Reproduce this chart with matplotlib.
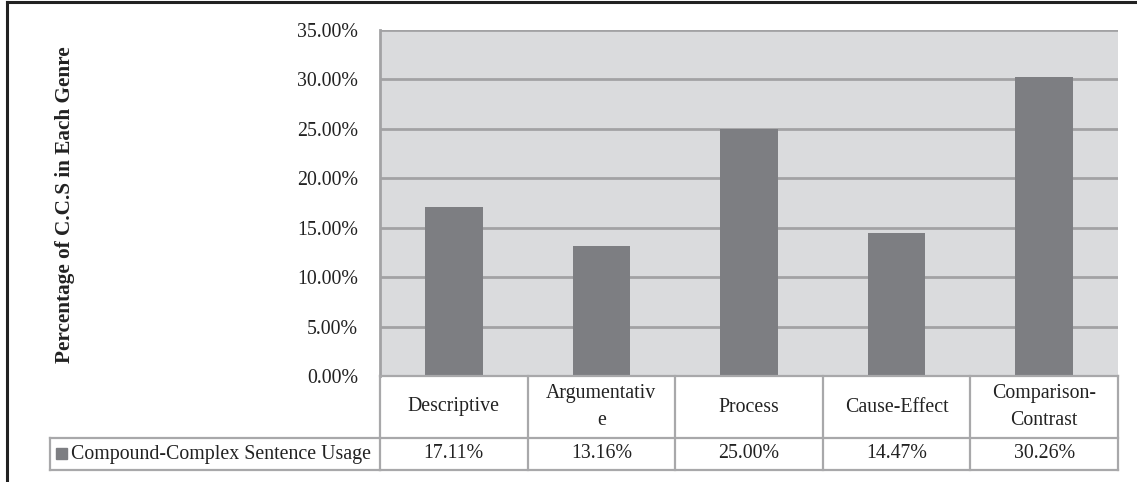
import matplotlib
matplotlib.use("Agg")
import matplotlib.pyplot as plt
from matplotlib.lines import Line2D
from matplotlib.patches import Rectangle
import matplotlib.transforms as mtransforms

plt.rcParams['font.family'] = ['Liberation Serif', 'DejaVu Serif']

genres = ["Descriptive", "Argumentativ\ne", "Process", "Cause-Effect", "Comparison-\nContrast"]
usage = [17.11, 13.16, 25.00, 14.47, 30.26]
series_name = "Compound-Complex Sentence Usage"
y_ticks = [0, 5, 10, 15, 20, 25, 30, 35]
y_label = "Percentage of C.C.S in Each Genre"

W, H = 1137, 482
fig = plt.figure(figsize=(W / 100, H / 100), dpi=100)

# plot area in pixel coordinates
px_left, px_right, px_top, px_bottom = 380, 1118, 30, 376
ax = fig.add_axes([px_left / W, 1 - px_bottom / H,
                   (px_right - px_left) / W, (px_bottom - px_top) / H])

bar_color = "#7d7e82"
bg_color = "#dadbdd"
grid_color = "#a2a2a4"
table_color = "#a8a8aa"
text_color = "#222222"

ax.set_facecolor(bg_color)
x = list(range(len(genres)))
ax.bar(x, usage, width=0.39, color=bar_color, zorder=3)
ax.set_xlim(-0.5, len(genres) - 0.5)
ax.set_ylim(0, 35)
ax.set_yticks(y_ticks)
ax.set_yticklabels([f"{v:.2f}%" for v in y_ticks], fontsize=14.3, color=text_color)
ax.tick_params(axis="y", length=0, pad=16)
ax.set_xticks([])
ax.yaxis.grid(True, color=grid_color, linewidth=2, zorder=1)
ax.set_axisbelow(True)
for side in ("top", "right", "bottom"):
    ax.spines[side].set_visible(False)
ax.spines["left"].set_color(grid_color)
ax.spines["left"].set_linewidth(2)

# data table below the plot area
trans = mtransforms.blended_transform_factory(ax.transData, fig.transFigure)
fy = lambda py: 1 - py / H
fx = lambda px: px / W
row1_top, row1_bot, row2_bot = 376, 438, 470
legend_left = 50

def hline(x0, x1, y, tr):
    fig.add_artist(Line2D([x0, x1], [y, y], transform=tr, color=table_color, lw=1.6))

def vline(xv, y0, y1, tr):
    fig.add_artist(Line2D([xv, xv], [y0, y1], transform=tr, color=table_color, lw=1.6))

n = len(genres)
hline(-0.5, n - 0.5, fy(row1_top), trans)
hline(-0.5, n - 0.5, fy(row1_bot), trans)
hline(-0.5, n - 0.5, fy(row2_bot), trans)
hline(fx(legend_left), fx(px_left), fy(row1_bot), fig.transFigure)
hline(fx(legend_left), fx(px_left), fy(row2_bot), fig.transFigure)
vline(fx(legend_left), fy(row1_bot), fy(row2_bot), fig.transFigure)
for i in range(n + 1):
    vline(i - 0.5, fy(row1_top), fy(row2_bot), trans)

for i, (g, v) in enumerate(zip(genres, usage)):
    fig.text(i, fy((row1_top + row1_bot) / 2), g, transform=trans, ha="center",
             va="center", fontsize=14.3, color=text_color, linespacing=1.57)
    fig.text(i, fy((row1_bot + row2_bot) / 2), f"{v:.2f}%", transform=trans,
             ha="center", va="center", fontsize=14.3, color=text_color)

# legend key and series name
fig.add_artist(Rectangle((fx(56), fy(459)), 11 / W, 11 / H, transform=fig.transFigure,
                         color=bar_color))
fig.text(fx(71), fy((row1_bot + row2_bot) / 2), series_name, ha="left", va="center",
         fontsize=14.3, color=text_color)

fig.text(fx(65), fy(205), y_label, rotation=90, ha="center", va="center",
         fontsize=15.3, fontweight="bold", color=text_color)

# outer frame
fig.add_artist(Line2D([fx(7), fx(7)], [fy(2), 0], transform=fig.transFigure,
                      color=text_color, lw=2.2))
fig.add_artist(Line2D([fx(7), 1], [fy(2), fy(2)], transform=fig.transFigure,
                      color=text_color, lw=2.2))

fig.savefig("out.png", dpi=100, facecolor="white")
